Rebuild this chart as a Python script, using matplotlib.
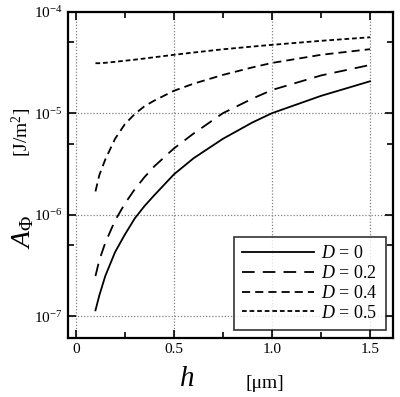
import matplotlib
matplotlib.use("Agg")
import matplotlib.pyplot as plt
from matplotlib.ticker import FixedLocator, NullFormatter

plt.rcParams['font.family'] = ['Liberation Serif', 'DejaVu Serif']
plt.rcParams['mathtext.fontset'] = 'custom'
plt.rcParams['mathtext.rm'] = 'Liberation Serif'
plt.rcParams['mathtext.it'] = 'Liberation Serif:italic'

# values
h = [0.1, 0.12, 0.15, 0.2, 0.25, 0.3, 0.35, 0.4, 0.5, 0.6, 0.75, 0.9, 1.0, 1.25, 1.5]
a_d00 = [1.15e-7, 1.62e-7, 2.5e-7, 4.3e-7, 6.4e-7, 9.2e-7, 1.22e-6, 1.56e-6, 2.5e-6,
         3.6e-6, 5.6e-6, 8.1e-6, 1.0e-5, 1.48e-5, 2.06e-5]
a_d02 = [2.5e-7, 3.6e-7, 5.3e-7, 8.8e-7, 1.29e-6, 1.78e-6, 2.35e-6, 3.0e-6, 4.5e-6,
         6.3e-6, 1.0e-5, 1.39e-5, 1.69e-5, 2.35e-5, 2.98e-5]
a_d04 = [1.7e-6, 2.47e-6, 3.5e-6, 5.6e-6, 7.8e-6, 9.8e-6, 1.17e-5, 1.33e-5, 1.66e-5,
         1.95e-5, 2.38e-5, 2.82e-5, 3.12e-5, 3.75e-5, 4.26e-5]
a_d05 = [3.1e-5, 3.1e-5, 3.13e-5, 3.2e-5, 3.28e-5, 3.36e-5, 3.45e-5, 3.55e-5, 3.75e-5,
         3.95e-5, 4.25e-5, 4.52e-5, 4.7e-5, 5.15e-5, 5.58e-5]
labels = ["0", "0.2", "0.4", "0.5"]

fig = plt.figure(figsize=(4.0, 3.97), dpi=100)
ax = fig.add_axes([0.17, 0.149, 0.8125, 0.822])

lw = 1.3
ax.plot(h, a_d00, color='black', lw=lw, label=r'$D$ = ' + labels[0])
ax.plot(h, a_d02, color='black', lw=lw, dashes=(7, 4.5), label=r'$D$ = ' + labels[1])
ax.plot(h, a_d04, color='black', lw=lw, dashes=(4.5, 2.8), label=r'$D$ = ' + labels[2])
ax.plot(h, a_d05, color='black', lw=lw, dashes=(2.6, 1.6), label=r'$D$ = ' + labels[3])

ax.set_yscale('log')
ax.set_xlim(-0.04, 1.617)
ax.set_ylim(10**-7.21, 1e-4)

ax.set_xticks([0, 0.5, 1.0, 1.5])
ax.set_xticklabels(["0", "0.5", "1.0", "1.5"])
ax.xaxis.set_minor_locator(FixedLocator([0.25, 0.75, 1.25]))
ax.set_yticks([1e-7, 1e-6, 1e-5, 1e-4])
ax.set_yticklabels([r'$10^{-7}$', r'$10^{-6}$', r'$10^{-5}$', r'$10^{-4}$'])
ax.yaxis.set_minor_locator(FixedLocator([5e-7, 5e-6, 5e-5]))
ax.yaxis.set_minor_formatter(NullFormatter())

ax.tick_params(which='both', direction='in', top=True, right=True, labelsize=11, width=1.2)
ax.tick_params(which='major', length=6, pad=4)
ax.tick_params(which='minor', length=4)
for s in ax.spines.values():
    s.set_linewidth(1.6)

ax.grid(True, which='major', linestyle=(0, (1, 1.5)), color='gray', lw=0.9)

leg = ax.legend(loc='lower right', fontsize=13, frameon=True, fancybox=False,
                edgecolor='black', handlelength=4.0, handletextpad=0.4,
                labelspacing=0.15, borderpad=0.45, borderaxespad=0,
                bbox_to_anchor=(0.978, 0.025))
leg.get_frame().set_linewidth(1.2)

fig.text(0.467, 0.012, r'$h$', fontsize=21, ha='center', va='bottom')
fig.text(0.663, 0.012, '[μm]', fontsize=14, ha='center', va='bottom')
fig.text(0.058, 0.416, r'$A_\Phi$', fontsize=20, rotation=90, ha='center', va='center')
fig.text(0.055, 0.667, r'[J/m$^2$]', fontsize=14, rotation=90, ha='center', va='center')

fig.savefig("out.png", dpi=100)
